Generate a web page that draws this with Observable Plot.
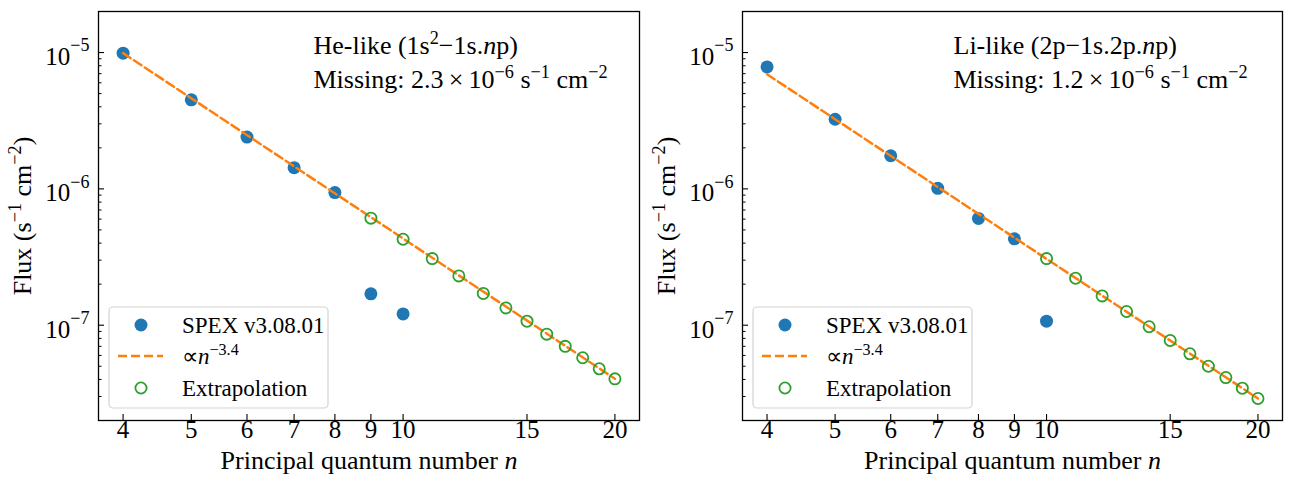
<!DOCTYPE html>
<html>
<head>
<meta charset="utf-8">
<script src="https://cdn.jsdelivr.net/npm/d3@7"></script>
<script src="https://cdn.jsdelivr.net/npm/@observablehq/plot@0.6"></script>
<style>
  html, body { margin: 0; padding: 0; background: #fff; }
  #fig { position: relative; width: 1291px; height: 483px; overflow: hidden; }
  #fig svg { position: absolute; top: 0; font-family: "Liberation Serif", "Times New Roman", serif; color: #000; }
  #fig svg text { font-family: "Liberation Serif", "Times New Roman", serif; }
</style>
</head>
<body>
<div id="fig"></div>
<script>
// ---- Data: line fluxes versus principal quantum number n ----
// He-like series (1s^2 - 1s.np)
const nSpexHe = [4, 5, 6, 7, 8, 9, 10];
const fluxSpexHe = [9.9e-6, 4.5e-6, 2.4e-6, 1.43e-6, 9.4e-7, 1.70e-7, 1.21e-7];
const nExtrapHe = [9, 10, 11, 12, 13, 14, 15, 16, 17, 18, 19, 20];
const fluxExtrapHe = [6.1e-7, 4.27e-7, 3.08e-7, 2.30e-7, 1.71e-7, 1.34e-7, 1.07e-7, 8.6e-8, 7.0e-8, 5.77e-8, 4.79e-8, 4.04e-8];
const nFitHe = [4, 20];
const fluxFitHe = [9.9e-6, 4.05e-8];

// Li-like series (2p - 1s.2p.np)
const nSpexLi = [4, 5, 6, 7, 8, 9, 10];
const fluxSpexLi = [7.84e-6, 3.24e-6, 1.75e-6, 1.01e-6, 6.07e-7, 4.3e-7, 1.07e-7];
const nExtrapLi = [10, 11, 12, 13, 14, 15, 16, 17, 18, 19, 20];
const fluxExtrapLi = [3.08e-7, 2.21e-7, 1.64e-7, 1.26e-7, 9.74e-8, 7.72e-8, 6.17e-8, 5.0e-8, 4.13e-8, 3.45e-8, 2.9e-8];
const nFitLi = [4, 20];
const fluxFitLi = [6.93e-6, 2.9e-8];

// Axis ticks and labels
const xTicks = [4, 5, 6, 7, 8, 9, 10, 15, 20];
const xTickLabels = ["4", "5", "6", "7", "8", "9", "10", "15", "20"];
const yTicks = [1e-7, 1e-6, 1e-5];
const yTickLabels = ["10^{−7}", "10^{−6}", "10^{−5}"];
const yMinorTicks = [2e-8, 3e-8, 4e-8, 5e-8, 6e-8, 7e-8, 8e-8, 9e-8,
  2e-7, 3e-7, 4e-7, 5e-7, 6e-7, 7e-7, 8e-7, 9e-7,
  2e-6, 3e-6, 4e-6, 5e-6, 6e-6, 7e-6, 8e-6, 9e-6, 2e-5];
const yDomain = [2e-8, 2e-5];

const xLabel = "Principal quantum number {i:n}";
const yLabel = "Flux (s^{−1} cm^{−2})";
const legendLabels = ["SPEX v3.08.01", "∝{i:n}^{−3.4}", "Extrapolation"];

const BLUE = "#1f77b4", ORANGE = "#ff7f0e", GREEN = "#2ca02c";
const DASH = "9,4";
const SERIF = "Liberation Serif, Times New Roman, serif";

// x limits: data range padded by 5% in log space
const nAll = nExtrapHe.concat(nSpexHe);
const nLo = d3.min(nAll), nHi = d3.max(nAll);
const pad = Math.pow(nHi / nLo, 0.05);
const xDomain = [nLo / pad, nHi * pad];

const zip = (xs, ys) => xs.map((x, i) => ({n: x, flux: ys[i]}));

// Turn "^{..}" into superscripts and "{i:..}" into italics
const svgNS = "http://www.w3.org/2000/svg";
const tokenRe = /\^\{([^}]*)\}|\{i:([^}]*)\}|([^^{]+)/g;
function richText(svg) {
  d3.select(svg).selectAll("text").each(function () {
    const s = this.textContent;
    if (!/[\^{]/.test(s)) return;
    const isTick = /^10\^/.test(s);
    const k = isTick ? 0.72 : 0.7;      // superscript size
    const R = isTick ? 0.55 : 0.38;     // superscript raise (in base em)
    this.textContent = "";
    let pending = 0;
    for (const m of s.matchAll(tokenRe)) {
      const t = document.createElementNS(svgNS, "tspan");
      if (m[1] !== undefined) {
        t.setAttribute("font-size", `${k * 100}%`);
        t.setAttribute("dy", `${-R / k}em`);
        pending = R;
        t.textContent = m[1];
      } else {
        if (pending) { t.setAttribute("dy", `${pending}em`); pending = 0; }
        if (m[2] !== undefined) { t.setAttribute("font-style", "italic"); t.textContent = m[2]; }
        else t.textContent = m[3];
      }
      this.appendChild(t);
    }
  });
}

function drawLegend(svg, frameLeft) {
  const g = d3.select(svg).append("g").attr("transform", `translate(${frameLeft},0)`);
  g.append("rect").attr("x", 11).attr("y", 307).attr("width", 219).attr("height", 101)
    .attr("rx", 4).attr("fill", "#fff").attr("fill-opacity", 0.8)
    .attr("stroke", "#d3d3d3").attr("stroke-width", 1.2);
  g.append("circle").attr("cx", 43).attr("cy", 325).attr("r", 6.5).attr("fill", BLUE);
  g.append("line").attr("x1", 20).attr("x2", 65).attr("y1", 356).attr("y2", 356)
    .attr("stroke", ORANGE).attr("stroke-width", 2.5).attr("stroke-dasharray", DASH);
  g.append("circle").attr("cx", 43).attr("cy", 388).attr("r", 5.6)
    .attr("fill", "none").attr("stroke", GREEN).attr("stroke-width", 1.8);
  const ys = [333, 364, 396];
  legendLabels.forEach((lab, i) => {
    g.append("text").attr("x", 84).attr("y", ys[i]).attr("font-size", 23)
      .attr("font-family", SERIF).attr("text-anchor", "start").text(lab);
  });
}

function panel(cfg) {
  const W = cfg.width, H = 483;
  const mL = cfg.marginLeft, mR = cfg.marginRight, mT = 11, mB = 63;
  const pw = W - mL - mR, ph = H - mT - mB;
  const svg = Plot.plot({
    width: W, height: H,
    marginLeft: mL, marginRight: mR, marginTop: mT, marginBottom: mB,
    style: {fontFamily: SERIF, color: "#000", background: "transparent"},
    x: {type: "log", domain: xDomain, axis: null},
    y: {type: "log", domain: yDomain, axis: null},
    marks: [
      // data
      Plot.dot(zip(cfg.nSpex, cfg.fluxSpex), {x: "n", y: "flux", r: 6.5, fill: BLUE}),
      Plot.line(zip(cfg.nFit, cfg.fluxFit), {x: "n", y: "flux", stroke: ORANGE, strokeWidth: 2.5, strokeDasharray: DASH}),
      Plot.dot(zip(cfg.nExtrap, cfg.fluxExtrap), {x: "n", y: "flux", r: 5.6, fill: "none", stroke: GREEN, strokeWidth: 1.8}),
      // inward ticks
      Plot.tickY(yMinorTicks, {y: d => d, insetRight: pw - 3.5, stroke: "#000", strokeWidth: 1}),
      Plot.tickY(yTicks, {y: d => d, insetRight: pw - 6, stroke: "#000", strokeWidth: 1.1}),
      Plot.tickX(xTicks, {x: d => d, insetTop: ph - 6, stroke: "#000", strokeWidth: 1.1}),
      // tick labels
      Plot.text(yTicks, {y: d => d, text: (d, i) => yTickLabels[i], frameAnchor: "left", textAnchor: "end", dx: -9, dy: 4.5, fontSize: 25}),
      Plot.text(xTicks, {x: d => d, text: (d, i) => xTickLabels[i], frameAnchor: "bottom", dy: 17.6, fontSize: 25}),
      // axis labels
      Plot.text([xLabel], {text: d => d, frameAnchor: "bottom", dy: 48.7, fontSize: 26}),
      Plot.text([yLabel], {text: d => d, frameAnchor: "left", textAnchor: "middle", rotate: -90, dx: -76, fontSize: 26}),
      // annotation
      Plot.text([cfg.title], {text: d => d, frameAnchor: "top-left", textAnchor: "start", dx: cfg.noteDx, dy: 23.7, fontSize: 26}),
      Plot.text([cfg.missing], {text: d => d, frameAnchor: "top-left", textAnchor: "start", dx: cfg.noteDx, dy: 57.7, fontSize: 26}),
      Plot.frame({stroke: "#000", strokeWidth: 1.3})
    ]
  });
  svg.style.left = cfg.left + "px";
  drawLegend(svg, mL);
  richText(svg);
  return svg;
}

const fig = document.getElementById("fig");
fig.appendChild(panel({
  left: 0, width: 645, marginLeft: 98, marginRight: 6, noteDx: 215,
  nSpex: nSpexHe, fluxSpex: fluxSpexHe, nExtrap: nExtrapHe, fluxExtrap: fluxExtrapHe,
  nFit: nFitHe, fluxFit: fluxFitHe,
  title: "He-like (1s^{2}−1s.{i:n}p)",
  missing: "Missing: 2.3\u2009×\u200910^{−6} s^{−1} cm^{−2}"
}));
fig.appendChild(panel({
  left: 645, width: 646, marginLeft: 97, marginRight: 9, noteDx: 211,
  nSpex: nSpexLi, fluxSpex: fluxSpexLi, nExtrap: nExtrapLi, fluxExtrap: fluxExtrapLi,
  nFit: nFitLi, fluxFit: fluxFitLi,
  title: "Li-like (2p−1s.2p.{i:n}p)",
  missing: "Missing: 1.2\u2009×\u200910^{−6} s^{−1} cm^{−2}"
}));
</script>
</body>
</html>
